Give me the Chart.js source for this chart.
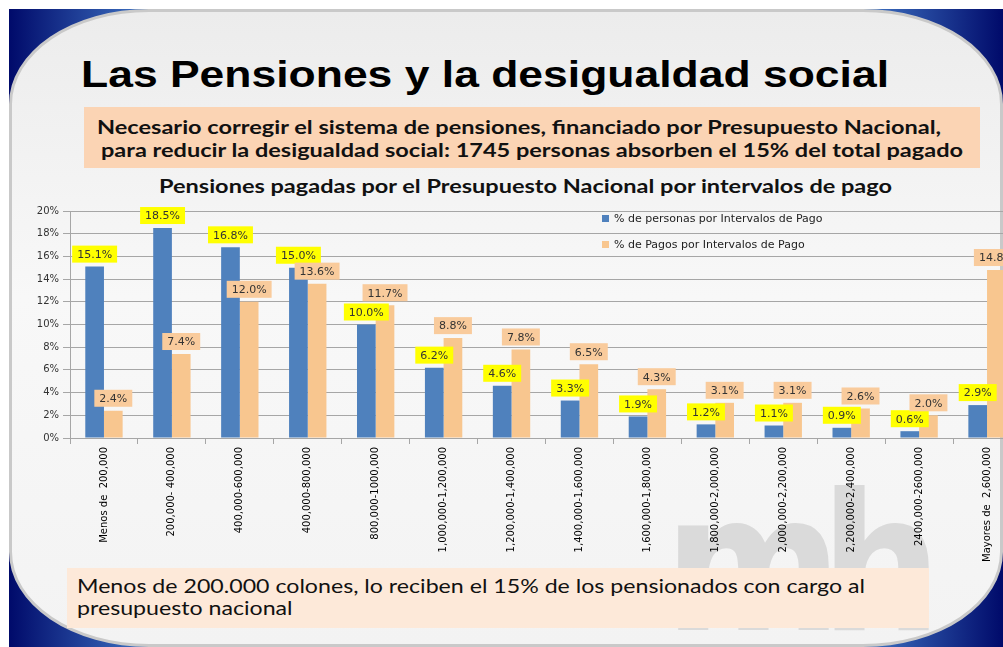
<!DOCTYPE html>
<html>
<head>
<meta charset="utf-8">
<script src="https://cdn.jsdelivr.net/npm/chart.js@4/dist/chart.umd.min.js"></script>
<style>
  html, body { margin: 0; padding: 0; width: 1003px; height: 647px; overflow: hidden; background: #fff; }
  #slide { position: absolute; left: 9px; top: 9px; width: 994px; height: 638px;
    background: linear-gradient(to right, #000a6a 0%, #3f74c4 14%, #5d8fd6 50%, #3f74c4 86%, #000a6a 100%); overflow: hidden; }
  #panel { position: absolute; left: 0; top: 0; width: 988px; height: 632px;
    border: 3px solid #c9c9c9; border-radius: 140px / 95px;
    background: linear-gradient(#ececec, #f8f8f8 45%, #f3f3f3 100%); overflow: hidden; }
  .txt { position: absolute; white-space: nowrap; transform-origin: 0 0; }
  #title { left: 72px; top: 45px; font: bold 37px "Liberation Sans", Arial, sans-serif; color: #000; }
  #subbox { left: 75px; top: 98px; width: 896px; height: 61px; background: #fbd4b4; }
  #sub1 { left: 88px; top: 106px; font: bold 19.5px Lato, sans-serif; color: #111; }
  #sub2 { left: 92px; top: 129px; font: bold 19.5px Lato, sans-serif; color: #111; }
  #ctitle { left: 150px; top: 166px; font: bold 18px Lato, sans-serif; color: #111; }
  #logo { left: 655px; top: 445px; font: bold 190px "DejaVu Sans Condensed", "DejaVu Sans", sans-serif; color: #dadada; letter-spacing: -22px; }
  #botbox { left: 58px; top: 559px; width: 862px; height: 60px; background: #fde9d9; }
  #bot1 { left: 68px; top: 565px; font: 19.5px Lato, sans-serif; color: #111; }
  #bot2 { left: 68px; top: 587px; font: 19.5px Lato, sans-serif; color: #111; }
  #chartwrap { position: absolute; left: -9px; top: 191px; }
  #legend { position: absolute; left: 593px; top: 203px; font: 11px "DejaVu Sans", sans-serif; color: #222; }
  .lg { position: absolute; white-space: nowrap; }
  .sw { display: inline-block; width: 7px; height: 7px; margin-right: 5px; }
</style>
</head>
<body>
<div id="slide">
  <div id="panel"></div>
  <div class="txt" id="logo">mh</div>
  <div class="txt" id="title">Las Pensiones y la desigualdad social</div>
  <div class="txt" id="subbox"></div>
  <div class="txt" id="sub1">Necesario corregir el sistema de pensiones, financiado por Presupuesto Nacional,</div>
  <div class="txt" id="sub2">para reducir la desigualdad social: 1745 personas absorben el 15% del total pagado</div>
  <div class="txt" id="ctitle">Pensiones pagadas por el Presupuesto Nacional por intervalos de pago</div>
  <div class="txt" id="botbox"></div>
  <div class="txt" id="bot1">Menos de 200.000 colones, lo reciben el 15% de los pensionados con cargo al</div>
  <div class="txt" id="bot2">presupuesto nacional</div>
  <div id="chartwrap"><canvas id="chart" width="1021" height="370"></canvas></div>
  <div id="legend"></div>
</div>
<script>
const categories = [
  "Menos de  200,000", "200,000- 400,000", "400,000-600,000", "400,000-800,000",
  "800,000-1000,000", "1,000,000-1,200,000", "1,200,000-1,400,000", "1,400,000-1,600,000",
  "1,600,000-1,800,000", "1,800,000-2,000,000", "2,000,000-2,200,000", "2,200,000-2,400,000",
  "2400,000-2600,000", "Mayores de  2,600,000"
];
const seriesNames = ["% de personas por Intervalos de Pago", "% de Pagos por Intervalos de Pago"];
const personas = [15.1, 18.5, 16.8, 15.0, 10.0, 6.2, 4.6, 3.3, 1.9, 1.2, 1.1, 0.9, 0.6, 2.9];
const pagos = [2.4, 7.4, 12.0, 13.6, 11.7, 8.8, 7.8, 6.5, 4.3, 3.1, 3.1, 2.6, 2.0, 14.8];

const barColors = ["#4f81bd", "#f8c68f"];
const labelBg = ["#ffff00", "#f9cb9c"];

// los textos de la diapositiva vienen estirados a lo ancho
const fitWidths = { title: 808, sub1: 844, sub2: 862, ctitle: 733, bot1: 788 };
for (const id in fitWidths) {
  const el = document.getElementById(id);
  const w = el.getBoundingClientRect().width;
  el.style.transform = "scaleX(" + (fitWidths[id] / w) + ")";
  if (id === "bot1") document.getElementById("bot2").style.transform = el.style.transform;
}

// etiquetas de datos con fondo, como en Excel
const valueLabels = {
  id: "valueLabels",
  afterDatasetsDraw(chart) {
    const ctx = chart.ctx;
    ctx.save();
    ctx.font = '11px "DejaVu Sans", sans-serif';
    ctx.textAlign = "center";
    ctx.textBaseline = "middle";
    chart.data.datasets.forEach((ds, i) => {
      const meta = chart.getDatasetMeta(i);
      meta.data.forEach((bar, j) => {
        const text = ds.data[j].toFixed(1) + "%";
        const w = ctx.measureText(text).width + 10;
        const h = 17;
        const x = bar.x - w / 2;
        const y = bar.y - 4 - h;
        ctx.fillStyle = labelBg[i];
        ctx.fillRect(x, y, w, h);
        ctx.fillStyle = "#333";
        ctx.fillText(text, bar.x, y + h / 2 + 1);
      });
    });
    ctx.restore();
  }
};

const ctx = document.getElementById("chart").getContext("2d");
new Chart(ctx, {
  type: "bar",
  data: {
    labels: categories,
    datasets: [
      { label: seriesNames[0], data: personas, backgroundColor: barColors[0], categoryPercentage: 0.55, barPercentage: 1 },
      { label: seriesNames[1], data: pagos, backgroundColor: barColors[1], categoryPercentage: 0.55, barPercentage: 1 }
    ]
  },
  options: {
    responsive: false,
    animation: false,
    devicePixelRatio: 1,
    layout: { padding: { top: 11, left: 0, right: 0, bottom: 0 } },
    plugins: { legend: { display: false }, title: { display: false }, tooltip: { enabled: false } },
    scales: {
      y: {
        min: 0, max: 20,
        ticks: { stepSize: 2, callback: v => v + "%", color: "#333", font: { family: "DejaVu Sans", size: 10 }, padding: 4 },
        grid: { color: "#a6a6a6", tickLength: 7 },
        border: { color: "#a6a6a6" },
        afterFit: s => { s.width = 70; }
      },
      x: {
        ticks: { minRotation: 90, maxRotation: 90, autoSkip: false, color: "#000", font: { family: "DejaVu Sans", size: 10 }, padding: 3 },
        grid: { drawOnChartArea: false, tickLength: 6, color: "#a6a6a6", offset: true },
        border: { color: "#a6a6a6" },
        afterFit: s => { s.height = 132; }
      }
    }
  },
  plugins: [valueLabels]
});

// leyenda dentro del área del gráfico
const legend = document.getElementById("legend");
seriesNames.forEach((name, i) => {
  const d = document.createElement("div");
  d.className = "lg";
  d.style.top = (i * 26) + "px";
  d.innerHTML = '<span class="sw" style="background:' + barColors[i] + '"></span>' + name;
  legend.appendChild(d);
});
</script>
</body>
</html>
